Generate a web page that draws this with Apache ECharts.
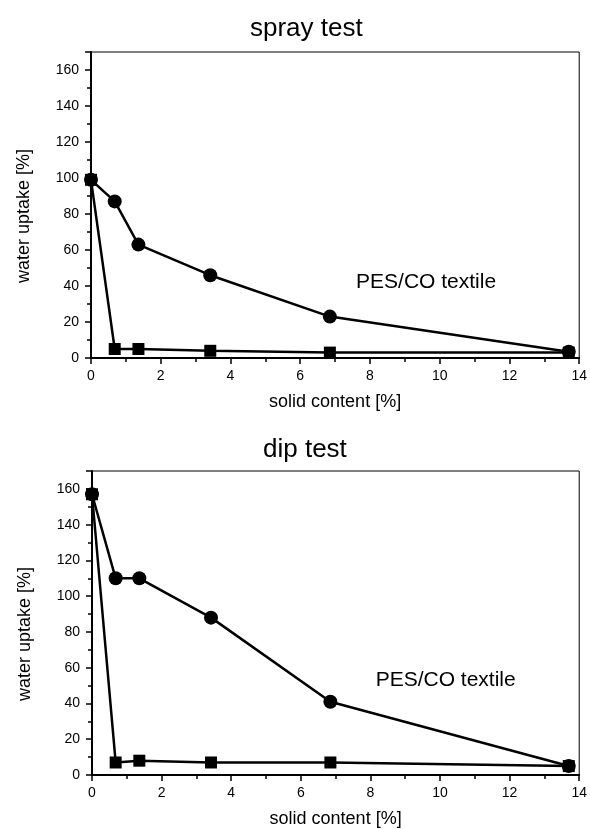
<!DOCTYPE html>
<html>
<head>
<meta charset="utf-8">
<script src="https://cdn.jsdelivr.net/npm/echarts@6/dist/echarts.min.js"></script>
<style>
html,body{margin:0;padding:0;background:#fff;}
#main{width:590px;height:829px;}
</style>
</head>
<body>
<div id="main"></div>
<script>
// solid content [%]
var solidContent = [0, 0.68, 1.36, 3.42, 6.85, 13.7];

// spray test
var sprayCircle = [99, 87, 63, 46, 23, 3.5];
var spraySquare = [99, 5, 5, 4, 3, 3];

// dip test
var dipCircle = [157, 110, 110, 88, 41, 5];
var dipSquare = [157, 7, 8, 7, 7, 5];

var titles = ['spray test', 'dip test'];
var noteText = 'PES/CO textile';
var notePos = [[7.6, 42], [8.15, 53]];

function pairs(xs, ys) {
	var out = [];
	for (var i = 0; i < xs.length; i++) {
		out.push([xs[i], ys[i]]);
	}
	return out;
}

var font = 'Liberation Sans, Arial, sans-serif';

function makeX(idx) {
	return {
		type: 'value', gridIndex: idx, min: 0, max: 14, interval: 2,
		name: 'solid content [%]', nameLocation: 'middle', nameGap: 35,
		nameTextStyle: {color: '#000', fontSize: 18, fontFamily: font},
		axisLine: {show: true, lineStyle: {color: '#000', width: 2}},
		axisTick: {show: true, inside: false, length: 6, lineStyle: {color: '#000', width: 1.5}},
		minorTick: {show: true, splitNumber: 2, length: 4, lineStyle: {color: '#000', width: 1.5}},
		axisLabel: {color: '#000', fontSize: 14, fontFamily: font, margin: 11},
		splitLine: {show: false}
	};
}

function makeY(idx) {
	return {
		type: 'value', gridIndex: idx, min: 0, max: 170, interval: 20,
		name: 'water uptake [%]', nameLocation: 'middle', nameGap: 58, nameRotate: 90,
		nameTextStyle: {color: '#000', fontSize: 18, fontFamily: font, padding: [0, 22, 0, 0]},
		axisLine: {show: true, lineStyle: {color: '#000', width: 2}},
		axisTick: {show: true, inside: false, length: 6, lineStyle: {color: '#000', width: 1.5}},
		minorTick: {show: true, splitNumber: 2, length: 4, lineStyle: {color: '#000', width: 1.5}},
		axisLabel: {color: '#000', fontSize: 14, fontFamily: font, margin: 12,
			formatter: function (v) { return v > 160 ? '' : v; }},
		splitLine: {show: false}
	};
}

function lineSeries(idx, ys, symbol, size, z) {
	return {
		type: 'line', xAxisIndex: idx, yAxisIndex: idx,
		data: pairs(solidContent, ys),
		symbol: symbol, symbolSize: size, showSymbol: true,
		lineStyle: {color: '#000', width: 2.5},
		itemStyle: {color: '#000'},
		z: z, silent: true
	};
}

function noteSeries(idx) {
	return {
		type: 'scatter', xAxisIndex: idx, yAxisIndex: idx,
		data: [notePos[idx]], symbolSize: 0,
		itemStyle: {opacity: 1},
		label: {show: true, position: 'right', offset: [-5, 0], formatter: noteText,
			color: '#000', opacity: 1, fontSize: 21, fontFamily: font},
		silent: true
	};
}

var dom = document.getElementById('main');
var myChart = echarts.init(dom);
var option = {
	backgroundColor: '#fff',
	animation: false,
	title: [
		{text: titles[0], left: 250, top: 16, padding: 0, textStyle: {color: '#000', fontSize: 26, fontWeight: 'normal', fontFamily: font}},
		{text: titles[1], left: 263, top: 437, padding: 0, textStyle: {color: '#000', fontSize: 26, fontWeight: 'normal', fontFamily: font}}
	],
	grid: [
		{left: 91, right: 9, top: 52, height: 306, show: true, borderColor: '#000', borderWidth: 1, backgroundColor: 'transparent'},
		{left: 92, right: 8, top: 471, height: 307, show: true, borderColor: '#000', borderWidth: 1, backgroundColor: 'transparent'}
	],
	xAxis: [makeX(0), makeX(1)],
	yAxis: [makeY(0), makeY(1)],
	series: [
		lineSeries(0, spraySquare, 'rect', 12, 3),
		lineSeries(0, sprayCircle, 'circle', 14, 4),
		noteSeries(0),
		lineSeries(1, dipCircle, 'circle', 14, 3),
		lineSeries(1, dipSquare, 'rect', 12, 4),
		noteSeries(1)
	]
};

if (option && typeof option === "object") {
	myChart.setOption(option, true);
}
</script>
</body>
</html>
